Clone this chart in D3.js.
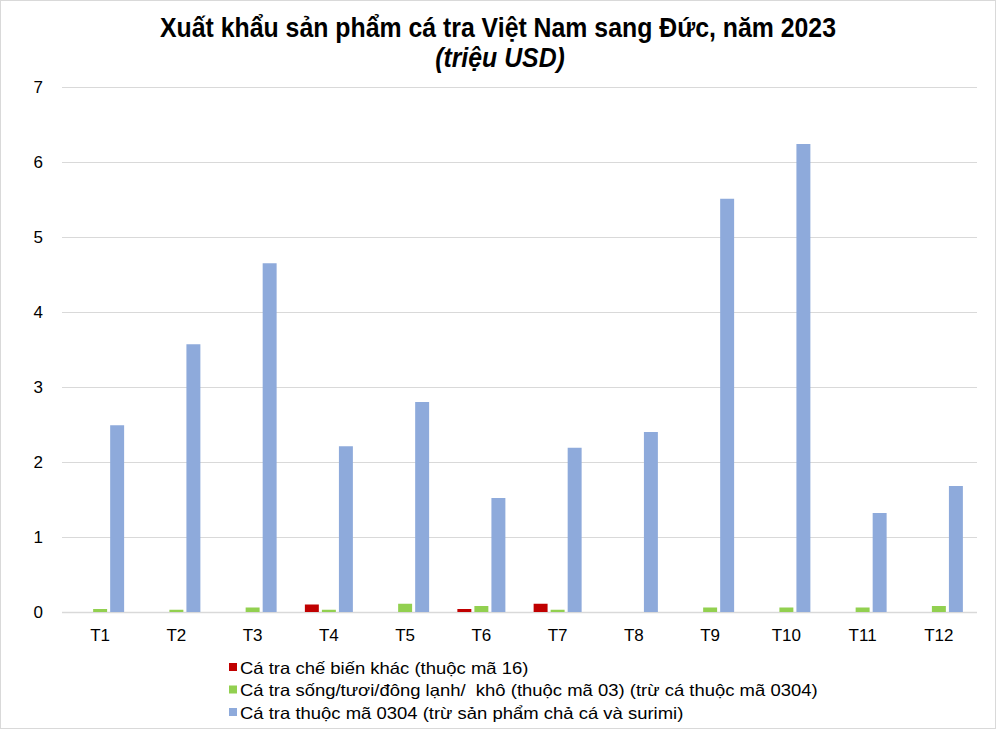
<!DOCTYPE html>
<html>
<head>
<meta charset="utf-8">
<script src="https://cdn.jsdelivr.net/npm/d3@7"></script>
<style>
  body { margin: 0; background: #fff; }
  svg { font-family: "Liberation Sans", Arial, sans-serif; }
</style>
</head>
<body>
<div id="chart"></div>
<script>
"use strict";

var months = ["T1", "T2", "T3", "T4", "T5", "T6", "T7", "T8", "T9", "T10", "T11", "T12"];
var seriesNames = [
    "Cá tra chế biến khác (thuộc mã 16)",
    "Cá tra sống/tươi/đông lạnh/  khô (thuộc mã 03) (trừ cá thuộc mã 0304)",
    "Cá tra thuộc mã 0304 (trừ sản phẩm chả cá và surimi)"
];
var processed = [0, 0, 0, 0.10, 0, 0.04, 0.11, 0, 0, 0, 0, 0];
var fresh = [0.04, 0.03, 0.06, 0.03, 0.11, 0.08, 0.03, 0, 0.06, 0.06, 0.06, 0.08];
var code0304 = [2.49, 3.57, 4.65, 2.21, 2.80, 1.52, 2.19, 2.40, 5.51, 6.24, 1.32, 1.68];
var yTicks = [0, 1, 2, 3, 4, 5, 6, 7];
var colors = ["#c00000", "#92d050", "#8eaadb"];

var width = 996, height = 729;
var margin = {top: 87, left: 62, right: 19, bottom: 117};

var svg = d3.select("#chart").append("svg")
    .attr("width", width)
    .attr("height", height);

svg.append("rect")
    .attr("x", 0.5).attr("y", 0.5)
    .attr("width", width - 1).attr("height", height - 1)
    .attr("fill", "#fff")
    .attr("stroke", "#d9d9d9");

var x = d3.scaleBand()
    .domain(months)
    .range([margin.left, width - margin.right]);

var x1 = d3.scaleBand()
    .domain([0, 1, 2])
    .range([-24, 24])
    .paddingInner(0.18);

var y = d3.scaleLinear()
    .domain([0, 7])
    .range([height - margin.bottom, margin.top]);

// grid
svg.append("g")
    .selectAll("line")
    .data(yTicks)
    .enter().append("line")
    .attr("x1", margin.left)
    .attr("x2", width - margin.right)
    .attr("y1", function (d) { return Math.round(y(d)) + 0.5; })
    .attr("y2", function (d) { return Math.round(y(d)) + 0.5; })
    .attr("stroke", "#d9d9d9")
    .attr("stroke-width", function (d) { return d === 0 ? 1.5 : 1; });

var yAxis = svg.append("g")
    .attr("transform", "translate(" + (margin.left - 16) + ",0)")
    .call(d3.axisLeft(y).tickValues(yTicks).tickSize(0).tickFormat(d3.format("d")));
yAxis.select(".domain").remove();
yAxis.selectAll("text")
    .attr("font-size", 17)
    .attr("font-family", "Liberation Sans, Arial, sans-serif")
    .attr("fill", "#000");

var xAxis = svg.append("g")
    .attr("transform", "translate(0," + (height - margin.bottom + 14) + ")")
    .call(d3.axisBottom(x).tickSize(0));
xAxis.select(".domain").remove();
xAxis.selectAll("text")
    .attr("font-size", 17)
    .attr("font-family", "Liberation Sans, Arial, sans-serif")
    .attr("fill", "#000");

var series = [processed, fresh, code0304];

series.forEach(function (values, i) {
    svg.append("g")
        .attr("fill", colors[i])
        .selectAll("rect")
        .data(values)
        .enter().append("rect")
        .attr("x", function (d, j) { return x(months[j]) + x.bandwidth() / 2 + x1(i); })
        .attr("width", x1.bandwidth())
        .attr("y", function (d) { return y(d); })
        .attr("height", function (d) { return y(0) - y(d); });
});

// title (source text looks horizontally squeezed)
svg.append("text")
    .attr("transform", "translate(" + (width / 2) + ",37) scale(0.92,1)")
    .attr("text-anchor", "middle")
    .attr("font-size", 27)
    .attr("font-weight", "bold")
    .text("Xuất khẩu sản phẩm cá tra Việt Nam sang Đức, năm 2023");

svg.append("text")
    .attr("transform", "translate(" + (width / 2 + 2) + ",67) scale(0.92,1)")
    .attr("text-anchor", "middle")
    .attr("font-size", 27)
    .attr("font-weight", "bold")
    .attr("font-style", "italic")
    .text("(triệu USD)");

// legend
var legend = svg.append("g")
    .selectAll("g")
    .data(seriesNames)
    .enter().append("g")
    .attr("transform", function (d, i) { return "translate(229," + (668 + i * 22.5) + ")"; });

legend.append("rect")
    .attr("x", 0).attr("y", -5)
    .attr("width", 8).attr("height", 8)
    .attr("fill", function (d, i) { return colors[i]; });

legend.append("text")
    .attr("transform", "translate(11,5.5) scale(1.12,1)")
    .attr("font-size", 16.5)
    .attr("fill", "#000")
    .style("white-space", "pre")
    .text(function (d) { return d; });
</script>
</body>
</html>
